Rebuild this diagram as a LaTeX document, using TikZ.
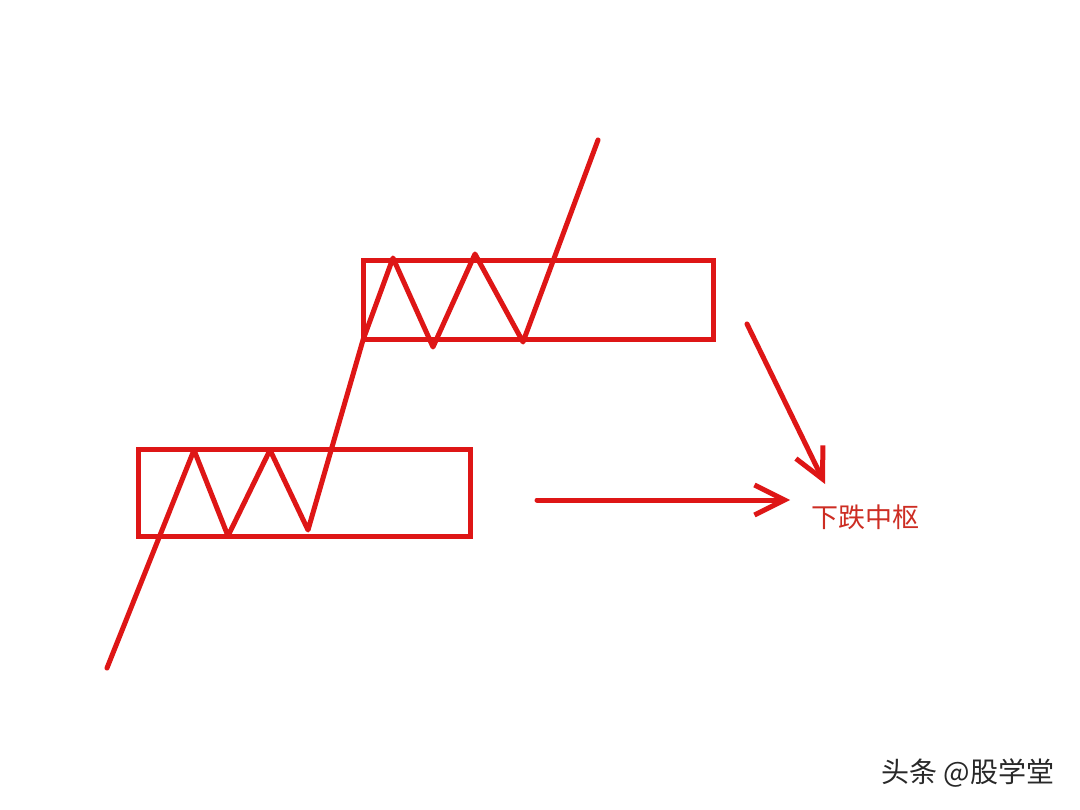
\documentclass[tikz,border=0pt]{standalone}
\usepackage{fontspec}
\newfontfamily\cjk{Noto Sans CJK SC}
\newfontfamily\cjkl{Noto Sans CJK SC Light}
\usetikzlibrary{arrows.meta}
\definecolor{pen}{RGB}{222,22,22}
\definecolor{labelred}{RGB}{205,45,35}
\definecolor{wm}{RGB}{40,40,40}
\tikzset{
  pen/.style={draw=pen, line width=5pt, line join=round, line cap=round},
  box/.style={draw=pen, line width=5pt, line join=miter},
  barb/.style={pen, -{Straight Barb[length=30pt,width=30pt,line width=5pt]}},
}
\begin{document}
\begin{tikzpicture}[x=1pt,y=-1pt]
\useasboundingbox (0,0) rectangle (1080,810);
\fill[white] (0,0) rectangle (1080,810);
% boxes
\draw[box] (138,450) rectangle (470,536);
\draw[box] (363,261) rectangle (713,340);
% zigzag path
\coordinate (s) at (107,668);
\coordinate (p1) at (194,450);
\coordinate (t1) at (228,536);
\coordinate (p2) at (270,450);
\coordinate (t2) at (308,530);
\coordinate (c) at (363,340);
\coordinate (p3) at (393,258);
\coordinate (t3) at (433,347);
\coordinate (p4) at (475,254);
\coordinate (t4) at (523,342);
\coordinate (e) at (598,140);
\draw[pen] (s) -- (p1) -- (t1) -- (p2) -- (t2) -- (c) -- (p3) -- (t3) -- (p4) -- (t4) -- (e);
% arrows
\coordinate (h0) at (537,500);
\coordinate (h1) at (790,500);
\draw[barb] (h0) -- (h1);
\coordinate (d0) at (747,324);
\coordinate (d1) at (825,484);
\draw[barb] (d0) -- (d1);
% label
\node[text=labelred, font=\cjk\fontsize{27}{30}\selectfont, anchor=center] (lab) at (865,517) {下跌中枢};
% watermark
\node[text=wm, font=\cjk\fontsize{28}{30}\selectfont, anchor=center] (wmk) at (968,773) {头条 @股学堂};
\end{tikzpicture}
\end{document}
